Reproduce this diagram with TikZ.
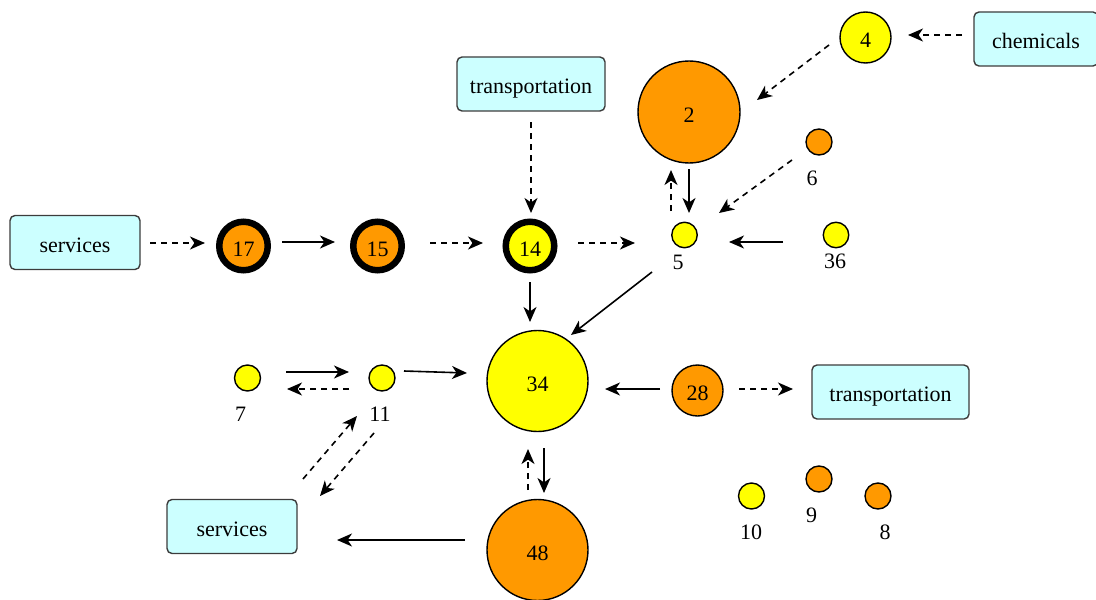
\documentclass[tikz,border=0pt]{standalone}
\usepackage{fontspec}
\setmainfont{Liberation Serif}
\usetikzlibrary{arrows.meta,calc}
\definecolor{gvorange}{RGB}{255,153,0}
\definecolor{gvyellow}{RGB}{255,255,0}
\definecolor{gvcyan}{RGB}{204,255,255}
\definecolor{gvgray}{RGB}{60,60,60}
\tikzset{
  every node/.style={font=\fontsize{11}{13}\selectfont},
  gvnode/.style={circle,draw=black,line width=0.7pt,inner sep=0pt,text height=10pt,text depth=0pt},
  orn/.style={gvnode,fill=gvorange},
  yel/.style={gvnode,fill=gvyellow},
  thick ring/.style={line width=3.25pt,minimum size=24.25pt},
  sbox/.style={rectangle,rounded corners=2.5pt,draw=gvgray,line width=0.7pt,fill=gvcyan,text height=9.5pt,text depth=0pt,inner sep=0pt,minimum height=27pt},
  lbl/.style={inner sep=0pt},
  sarr/.style={line width=0.8pt,-{Stealth[length=7.5pt,width=6.5pt,inset=2.2pt]}},
  darr/.style={sarr,dash pattern=on 3pt off 2.5pt}
}
\begin{document}
\begin{tikzpicture}[x=0.5pt,y=-0.5pt]
\useasboundingbox (0,0) rectangle (1096,599);
% boxes
\node[sbox,minimum width=62pt] (chem) at (1036,39) {chemicals};
\node[sbox,minimum width=74pt] (tr1) at (531,84) {transportation};
\node[sbox,minimum width=65pt] (sv1) at (75,242.5) {services};
\node[sbox,minimum width=78.5pt] (tr2) at (890.5,392) {transportation};
\node[sbox,minimum width=65pt] (sv2) at (232,526.5) {services};
% circles
\node[yel,minimum size=25.5pt] (n4) at (865.5,37.5) {4};
\node[orn,minimum size=51pt] (n2) at (689,112) {2};
\node[orn,thick ring] (n17) at (243.5,246) {17};
\node[orn,thick ring] (n15) at (377.5,246) {15};
\node[yel,thick ring] (n14) at (530,246) {14};
\node[yel,minimum size=12.75pt] (n5) at (684.5,235) {};
\node[orn,minimum size=13pt] (n6) at (819,142) {};
\node[yel,minimum size=12.75pt] (n36) at (836,235) {};
\node[yel,minimum size=50.5pt] (n34) at (537.5,381) {34};
\node[orn,minimum size=25.5pt] (n28) at (697.5,390.5) {28};
\node[yel,minimum size=13pt] (n7) at (247.5,378) {};
\node[yel,minimum size=13pt] (n11) at (382,378) {};
\node[orn,minimum size=50.5pt] (n48) at (537.5,550) {48};
\node[yel,minimum size=13pt] (n10) at (751.5,496) {};
\node[orn,minimum size=13pt] (n9) at (819,479) {};
\node[orn,minimum size=13pt] (n8) at (878,496) {};
% labels
\node[lbl] (l5) at (678,262.5) {5};
\node[lbl] (l6) at (812,178) {6};
\node[lbl] (l36) at (835,261.5) {36};
\node[lbl] (l7) at (240.5,414) {7};
\node[lbl] (l11) at (380,414) {11};
\node[lbl] (l10) at (751,532) {10};
\node[lbl] (l9) at (811.5,515) {9};
\node[lbl] (l8) at (885,532) {8};
% edges
\draw[darr] ($(chem)+(-74,-4)$) -- ($(n4)+(42.5,-2.5)$);
\draw[darr] ($(n4)+(-36.5,7.5)$) -- ($(n2)+(68,-12)$);
\draw[darr] ($(tr1)+(0,38)$) -- ($(n14)+(1,-33)$);
\draw[darr] ($(sv1)+(75,0.5)$) -- ($(n17)+(-38.5,-3)$);
\draw[sarr] ($(n17)+(38.5,-4)$) -- ($(n15)+(-42.5,-4)$);
\draw[darr] ($(n15)+(52.5,-3)$) -- ($(n14)+(-47,-3)$);
\draw[darr] ($(n14)+(48,-3)$) -- ($(n5)+(-49.5,8)$);
\draw[darr] ($(n5)+(-13.5,-24)$) -- ($(n2)+(-18,58)$);
\draw[sarr] ($(n2)+(0,57)$) -- ($(n5)+(4.5,-22)$);
\draw[darr] ($(n6)+(-27,18)$) -- ($(n5)+(34.5,-22)$);
\draw[sarr] ($(n36)+(-53,7)$) -- ($(n5)+(44.5,7)$);
\draw[sarr] ($(n14)+(0,36)$) -- ($(n34)+(-7.5,-59)$);
\draw[sarr] ($(n5)+(-32.5,37)$) -- ($(n34)+(33.5,-46)$);
\draw[sarr] ($(n28)+(-37.5,-1.5)$) -- ($(n34)+(67.5,8)$);
\draw[darr] ($(n28)+(41.5,-1.5)$) -- ($(tr2)+(-97.5,-3)$);
\draw[sarr] ($(n7)+(38.5,-6)$) -- ($(n11)+(-33,-6)$);
\draw[darr] ($(n11)+(-33,11)$) -- ($(n7)+(39.5,11)$);
\draw[sarr] ($(n11)+(22,-7)$) -- ($(n34)+(-70.5,-8)$);
\draw[darr] ($(sv2)+(71,-47.5)$) -- ($(n11)+(-25,38)$);
\draw[darr] ($(n11)+(-8,55)$) -- ($(sv2)+(88,-30.5)$);
\draw[darr] ($(n48)+(-9.5,-60)$) -- ($(n34)+(-9.5,68)$);
\draw[sarr] ($(n34)+(6.5,67)$) -- ($(n48)+(6.5,-57)$);
\draw[sarr] ($(n48)+(-72.5,-10)$) -- ($(sv2)+(105,13.5)$);
\end{tikzpicture}
\end{document}
